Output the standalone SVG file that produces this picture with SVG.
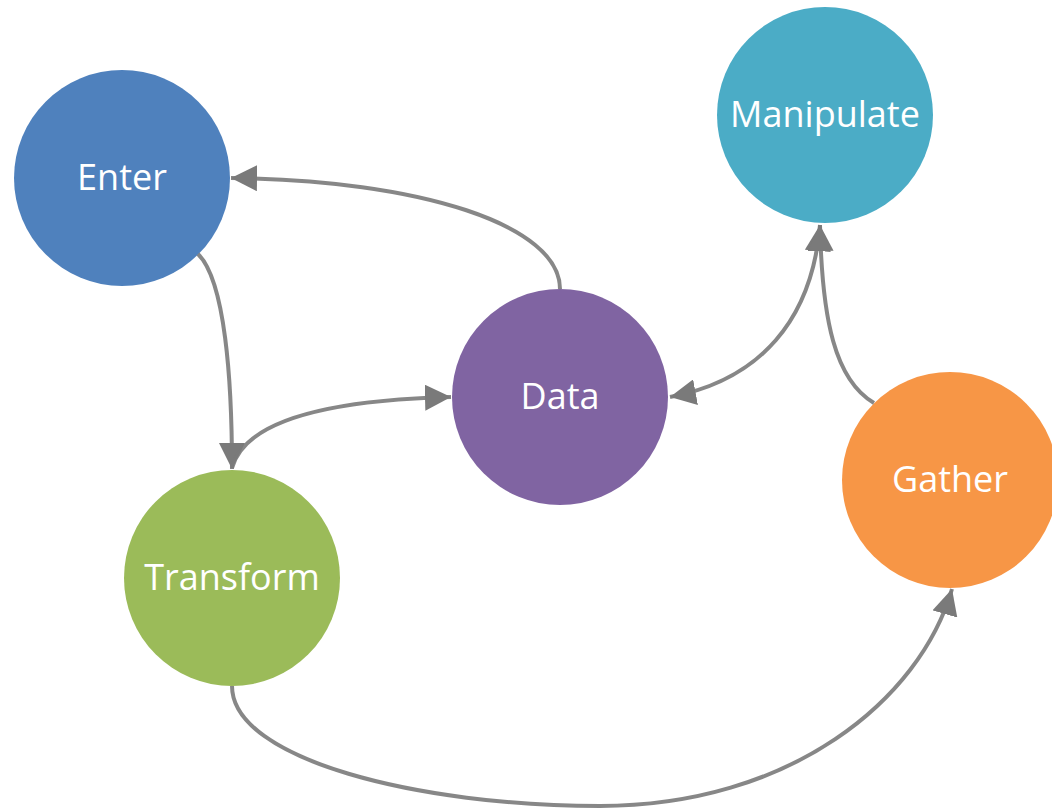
<svg xmlns="http://www.w3.org/2000/svg" width="1052" height="812" viewBox="0 0 1052 812">
<style>
.node text{font-family:"Open Sans","Noto Sans",sans-serif;font-size:36px;fill:#fff;text-anchor:middle;dominant-baseline:central}
.conn path{fill:none;stroke:#7a7a7a;stroke-opacity:0.9;stroke-width:4}
</style>
<defs>
<marker id="ah" markerUnits="userSpaceOnUse" viewBox="0 0 26 26" markerWidth="26" markerHeight="26" refX="26" refY="13" orient="auto-start-reverse">
<path d="M0,0 L26,13 L0,26 z" fill="#7a7a7a"/>
</marker>
</defs>
<rect width="1052" height="812" fill="#fff"/>
<g id="node-enter" class="node"><circle cx="122" cy="178" r="108" fill="#4F81BD"/><text x="122" y="176">Enter</text></g>
<g id="node-manipulate" class="node"><circle cx="825" cy="115" r="108" fill="#4BACC6"/><text x="825" y="113">Manipulate</text></g>
<g id="node-data" class="node"><circle cx="560" cy="397" r="108" fill="#8064A2"/><text x="560" y="395">Data</text></g>
<g id="node-transform" class="node"><circle cx="232" cy="578" r="108" fill="#9BBB59"/><text x="232" y="576">Transform</text></g>
<g id="node-gather" class="node"><circle cx="950" cy="480" r="108" fill="#F79646"/><text x="950" y="478">Gather</text></g>
<g id="connectors" class="conn">
<path d="M560,289 C560,225 420,180 231,178" marker-end="url(#ah)"/>
<path d="M198,254 C225,280 232,380 232,469" marker-end="url(#ah)"/>
<path d="M232,468 C245,420 330,400 451,397" marker-end="url(#ah)"/>
<path d="M670,397 C760,380 812,320 820,225" marker-start="url(#ah)" marker-end="url(#ah)"/>
<path d="M874,403 C835,380 822,320 820,225" marker-end="url(#ah)"/>
<path d="M232,686 C232,760 420,806 600,806 C790,806 920,700 952,589" marker-end="url(#ah)"/>
</g>
</svg>
